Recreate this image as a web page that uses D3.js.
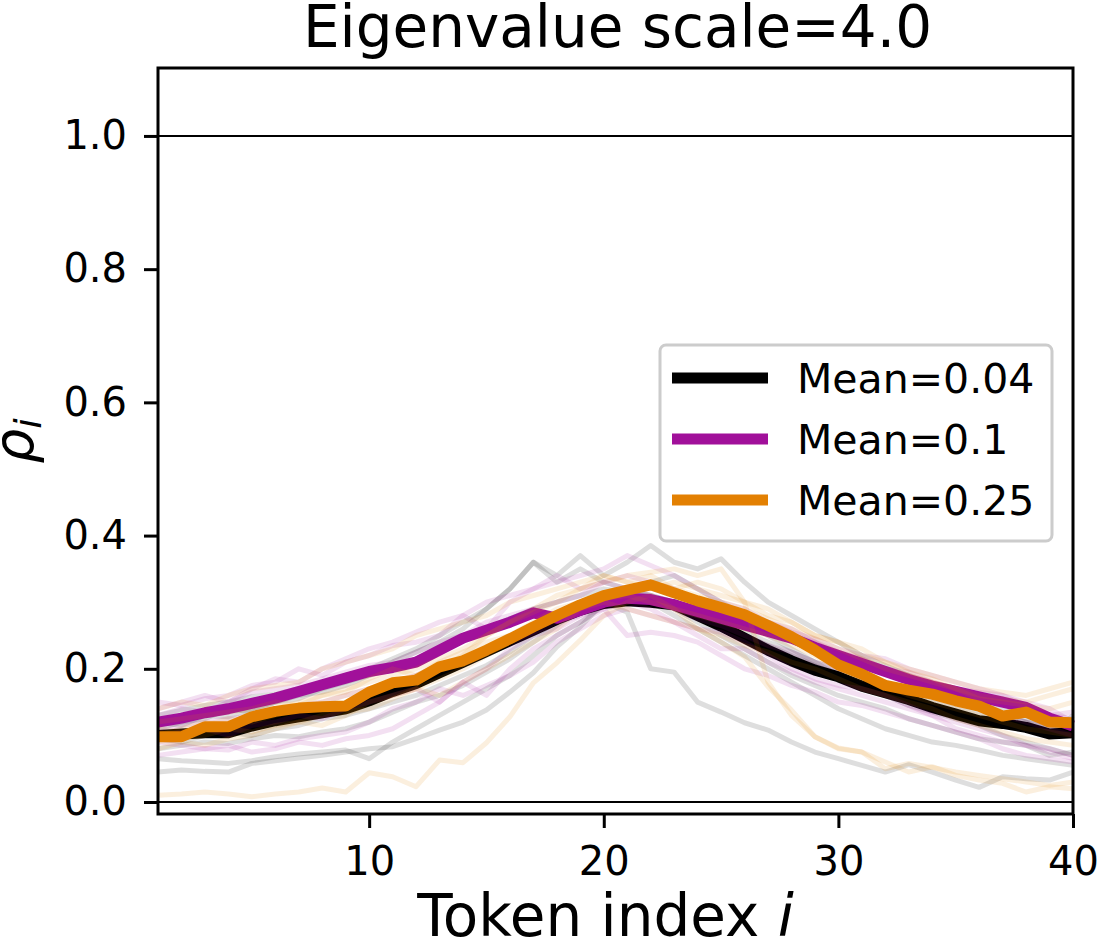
<!DOCTYPE html>
<html>
<head>
<meta charset="utf-8">
<script src="https://cdn.jsdelivr.net/npm/d3@7"></script>
<style>
	body { margin: 0; background: #fff; }
	svg { display: block; font-family: "DejaVu Sans", sans-serif; }
</style>
</head>
<body>
<svg id="chart" width="1098" height="945"></svg>
<script>
'use strict';

// token index 1..40
var tokens = d3.range(1, 41);

var xTicks = [10, 20, 30, 40];
var yTicks = [0, 0.2, 0.4, 0.6, 0.8, 1.0];
var refLines = [0, 1];

var seriesNames = ['Mean=0.04', 'Mean=0.1', 'Mean=0.25'];
var seriesColors = ['#000000', '#a1109a', '#e38002'];

// mean curves, one per series
var meanBlack = [0.100, 0.102, 0.104, 0.104, 0.114, 0.122, 0.128, 0.134, 0.140, 0.152,
	0.166, 0.178, 0.194, 0.210, 0.226, 0.242, 0.258, 0.274, 0.288, 0.298,
	0.302, 0.300, 0.296, 0.280, 0.264, 0.246, 0.228, 0.212, 0.198, 0.188,
	0.174, 0.164, 0.154, 0.142, 0.132, 0.122, 0.118, 0.112, 0.102, 0.104];
var meanPurple = [0.120, 0.126, 0.134, 0.140, 0.148, 0.156, 0.166, 0.176, 0.186, 0.196,
	0.202, 0.210, 0.228, 0.246, 0.258, 0.270, 0.284, 0.276, 0.288, 0.300,
	0.306, 0.304, 0.296, 0.286, 0.276, 0.266, 0.256, 0.246, 0.232, 0.220,
	0.208, 0.196, 0.184, 0.174, 0.166, 0.158, 0.150, 0.142, 0.126, 0.114];
var meanOrange = [0.098, 0.098, 0.113, 0.113, 0.128, 0.136, 0.141, 0.143, 0.144, 0.165,
	0.179, 0.183, 0.203, 0.212, 0.228, 0.245, 0.263, 0.280, 0.296, 0.310,
	0.318, 0.326, 0.314, 0.302, 0.292, 0.281, 0.265, 0.248, 0.228, 0.206,
	0.192, 0.175, 0.168, 0.162, 0.152, 0.144, 0.129, 0.135, 0.120, 0.119];

// individual runs (faint)
var runsBlack = [
	[0.045, 0.048, 0.046, 0.045, 0.058, 0.062, 0.066, 0.070, 0.075, 0.080,
	 0.083, 0.095, 0.108, 0.120, 0.138, 0.165, 0.194, 0.233, 0.263, 0.300,
	 0.285, 0.200, 0.195, 0.150, 0.135, 0.119, 0.108, 0.090, 0.075, 0.065,
	 0.055, 0.045, 0.056, 0.045, 0.033, 0.022, 0.038, 0.035, 0.033, 0.045],
	[0.130, 0.138, 0.145, 0.150, 0.158, 0.162, 0.170, 0.178, 0.190, 0.200,
	 0.215, 0.230, 0.250, 0.270, 0.290, 0.320, 0.360, 0.340, 0.370, 0.340,
	 0.360, 0.385, 0.360, 0.350, 0.365, 0.330, 0.300, 0.280, 0.260, 0.240,
	 0.220, 0.205, 0.190, 0.175, 0.160, 0.150, 0.140, 0.125, 0.110, 0.105],
	[0.065, 0.062, 0.060, 0.058, 0.062, 0.068, 0.072, 0.075, 0.078, 0.065,
	 0.090, 0.110, 0.130, 0.150, 0.170, 0.190, 0.220, 0.250, 0.270, 0.295,
	 0.310, 0.300, 0.280, 0.260, 0.240, 0.220, 0.200, 0.180, 0.160, 0.140,
	 0.125, 0.110, 0.100, 0.090, 0.085, 0.078, 0.070, 0.065, 0.060, 0.055],
	[0.110, 0.120, 0.125, 0.140, 0.135, 0.150, 0.160, 0.165, 0.175, 0.190,
	 0.200, 0.215, 0.225, 0.245, 0.260, 0.275, 0.290, 0.300, 0.310, 0.320,
	 0.315, 0.310, 0.300, 0.290, 0.270, 0.255, 0.240, 0.225, 0.210, 0.200,
	 0.190, 0.175, 0.168, 0.158, 0.150, 0.140, 0.130, 0.120, 0.100, 0.130],
	[0.080, 0.085, 0.090, 0.088, 0.095, 0.100, 0.098, 0.105, 0.110, 0.120,
	 0.135, 0.150, 0.160, 0.175, 0.195, 0.215, 0.240, 0.265, 0.290, 0.305,
	 0.320, 0.330, 0.340, 0.320, 0.300, 0.280, 0.250, 0.230, 0.210, 0.190,
	 0.175, 0.160, 0.145, 0.135, 0.125, 0.115, 0.100, 0.090, 0.080, 0.070],
	[0.120, 0.115, 0.130, 0.128, 0.140, 0.150, 0.155, 0.170, 0.180, 0.190,
	 0.210, 0.225, 0.240, 0.260, 0.290, 0.320, 0.360, 0.330, 0.350, 0.330,
	 0.320, 0.310, 0.300, 0.285, 0.270, 0.250, 0.235, 0.220, 0.205, 0.190,
	 0.180, 0.170, 0.160, 0.150, 0.140, 0.135, 0.125, 0.120, 0.115, 0.110],
	[0.095, 0.090, 0.100, 0.105, 0.100, 0.110, 0.115, 0.125, 0.130, 0.140,
	 0.150, 0.160, 0.175, 0.190, 0.205, 0.225, 0.250, 0.270, 0.290, 0.300,
	 0.310, 0.300, 0.290, 0.270, 0.250, 0.230, 0.210, 0.190, 0.175, 0.160,
	 0.150, 0.140, 0.125, 0.115, 0.105, 0.095, 0.090, 0.085, 0.070, 0.075]
];
var runsPurple = [
	[0.150, 0.145, 0.155, 0.160, 0.175, 0.180, 0.200, 0.190, 0.210, 0.220,
	 0.235, 0.240, 0.250, 0.280, 0.260, 0.300, 0.320, 0.330, 0.340, 0.350,
	 0.370, 0.355, 0.340, 0.320, 0.300, 0.290, 0.270, 0.260, 0.240, 0.225,
	 0.215, 0.200, 0.190, 0.180, 0.170, 0.160, 0.155, 0.140, 0.130, 0.135],
	[0.090, 0.085, 0.080, 0.085, 0.075, 0.080, 0.090, 0.085, 0.095, 0.100,
	 0.110, 0.130, 0.150, 0.180, 0.160, 0.200, 0.230, 0.250, 0.270, 0.290,
	 0.300, 0.290, 0.270, 0.250, 0.230, 0.230, 0.210, 0.195, 0.180, 0.170,
	 0.160, 0.150, 0.140, 0.130, 0.110, 0.100, 0.090, 0.085, 0.080, 0.070],
	[0.130, 0.140, 0.135, 0.150, 0.165, 0.170, 0.175, 0.185, 0.195, 0.205,
	 0.210, 0.225, 0.240, 0.250, 0.270, 0.280, 0.290, 0.300, 0.310, 0.330,
	 0.320, 0.310, 0.290, 0.280, 0.290, 0.270, 0.255, 0.250, 0.240, 0.220,
	 0.210, 0.200, 0.195, 0.180, 0.170, 0.165, 0.160, 0.150, 0.140, 0.120],
	[0.110, 0.115, 0.120, 0.125, 0.130, 0.135, 0.145, 0.150, 0.160, 0.170,
	 0.180, 0.190, 0.205, 0.215, 0.230, 0.240, 0.255, 0.270, 0.280, 0.300,
	 0.305, 0.300, 0.290, 0.275, 0.265, 0.250, 0.235, 0.225, 0.210, 0.200,
	 0.190, 0.180, 0.170, 0.160, 0.150, 0.140, 0.130, 0.120, 0.110, 0.100],
	[0.100, 0.105, 0.110, 0.100, 0.115, 0.120, 0.130, 0.125, 0.140, 0.150,
	 0.160, 0.170, 0.150, 0.180, 0.200, 0.230, 0.250, 0.260, 0.280, 0.290,
	 0.250, 0.255, 0.250, 0.240, 0.220, 0.200, 0.190, 0.175, 0.165, 0.150,
	 0.145, 0.135, 0.125, 0.115, 0.105, 0.095, 0.080, 0.070, 0.065, 0.060],
	[0.140, 0.150, 0.160, 0.150, 0.170, 0.185, 0.180, 0.200, 0.215, 0.230,
	 0.240, 0.255, 0.270, 0.280, 0.300, 0.310, 0.320, 0.340, 0.320, 0.330,
	 0.340, 0.330, 0.320, 0.300, 0.285, 0.280, 0.270, 0.255, 0.245, 0.230,
	 0.220, 0.215, 0.200, 0.190, 0.180, 0.170, 0.160, 0.145, 0.130, 0.125],
	[0.070, 0.075, 0.080, 0.078, 0.090, 0.085, 0.095, 0.100, 0.105, 0.120,
	 0.140, 0.150, 0.170, 0.160, 0.175, 0.190, 0.210, 0.240, 0.260, 0.280,
	 0.290, 0.280, 0.270, 0.260, 0.255, 0.240, 0.220, 0.200, 0.185, 0.175,
	 0.170, 0.160, 0.145, 0.130, 0.120, 0.110, 0.100, 0.085, 0.075, 0.065]
];
var runsOrange = [
	[0.010, 0.012, 0.015, 0.012, 0.008, 0.012, 0.015, 0.021, 0.015, 0.044,
	 0.038, 0.023, 0.063, 0.059, 0.089, 0.128, 0.179, 0.209, 0.243, 0.280,
	 0.300, 0.310, 0.290, 0.260, 0.240, 0.218, 0.173, 0.138, 0.098, 0.081,
	 0.075, 0.060, 0.045, 0.053, 0.040, 0.033, 0.028, 0.015, 0.023, 0.020],
	[0.100, 0.110, 0.120, 0.115, 0.130, 0.140, 0.150, 0.160, 0.170, 0.180,
	 0.190, 0.200, 0.215, 0.230, 0.250, 0.270, 0.290, 0.310, 0.320, 0.330,
	 0.340, 0.345, 0.350, 0.340, 0.350, 0.300, 0.180, 0.130, 0.098, 0.080,
	 0.075, 0.050, 0.058, 0.052, 0.045, 0.040, 0.035, 0.030, 0.025, 0.030],
	[0.140, 0.150, 0.145, 0.160, 0.170, 0.175, 0.180, 0.200, 0.210, 0.220,
	 0.230, 0.250, 0.260, 0.270, 0.280, 0.300, 0.310, 0.320, 0.330, 0.340,
	 0.330, 0.320, 0.330, 0.320, 0.310, 0.300, 0.280, 0.270, 0.250, 0.240,
	 0.230, 0.210, 0.200, 0.190, 0.180, 0.170, 0.165, 0.160, 0.170, 0.180],
	[0.090, 0.095, 0.100, 0.110, 0.105, 0.115, 0.120, 0.130, 0.135, 0.140,
	 0.155, 0.170, 0.185, 0.200, 0.220, 0.240, 0.260, 0.280, 0.300, 0.305,
	 0.310, 0.300, 0.290, 0.280, 0.270, 0.260, 0.250, 0.235, 0.220, 0.200,
	 0.185, 0.175, 0.160, 0.150, 0.140, 0.130, 0.120, 0.110, 0.105, 0.100],
	[0.120, 0.125, 0.130, 0.135, 0.140, 0.150, 0.145, 0.160, 0.165, 0.185,
	 0.200, 0.190, 0.210, 0.225, 0.240, 0.250, 0.270, 0.290, 0.300, 0.310,
	 0.320, 0.330, 0.320, 0.310, 0.300, 0.290, 0.275, 0.260, 0.245, 0.230,
	 0.215, 0.200, 0.190, 0.180, 0.170, 0.155, 0.150, 0.145, 0.140, 0.150],
	[0.110, 0.105, 0.115, 0.125, 0.120, 0.130, 0.140, 0.150, 0.160, 0.170,
	 0.175, 0.190, 0.200, 0.220, 0.250, 0.270, 0.285, 0.300, 0.320, 0.340,
	 0.330, 0.340, 0.320, 0.330, 0.320, 0.300, 0.290, 0.270, 0.250, 0.240,
	 0.220, 0.210, 0.195, 0.185, 0.170, 0.160, 0.155, 0.150, 0.160, 0.170],
	[0.080, 0.090, 0.085, 0.095, 0.100, 0.110, 0.120, 0.115, 0.130, 0.150,
	 0.160, 0.170, 0.160, 0.180, 0.200, 0.220, 0.240, 0.260, 0.290, 0.300,
	 0.290, 0.280, 0.270, 0.260, 0.250, 0.235, 0.225, 0.210, 0.200, 0.185,
	 0.170, 0.160, 0.150, 0.140, 0.125, 0.115, 0.105, 0.095, 0.090, 0.085]
];

var means = [meanBlack, meanPurple, meanOrange];
var runs = [runsBlack, runsPurple, runsOrange];

var margin = { top: 68, right: 25, bottom: 131, left: 158 };
var width = 1098 - margin.left - margin.right;
var height = 945 - margin.top - margin.bottom;

var svg = d3.select('#chart');
var g = svg.append('g')
	.attr('transform', 'translate(' + margin.left + ',' + margin.top + ')');

var x = d3.scaleLinear().domain([1, 40]).range([0, width]);
var y = d3.scaleLinear().domain([-0.018, 1.102]).range([height, 0]);

var line = d3.line()
	.x(function(d, i) { return x(tokens[i]); })
	.y(function(d) { return y(d); });

// reference lines at 0 and 1
g.selectAll('.ref')
	.data(refLines)
	.enter().append('line')
	.attr('class', 'ref')
	.attr('x1', 0)
	.attr('x2', width)
	.attr('y1', function(d) { return y(d); })
	.attr('y2', function(d) { return y(d); })
	.attr('stroke', '#000')
	.attr('stroke-width', 2);

var plot = g.append('g');

// each series: faint runs first, then its mean on top
means.forEach(function(mean, k) {
	plot.append('g')
		.selectAll('path')
		.data(runs[k])
		.enter().append('path')
		.attr('d', line)
		.attr('fill', 'none')
		.attr('stroke', seriesColors[k])
		.attr('stroke-opacity', 0.13)
		.attr('stroke-width', 5)
		.attr('stroke-linejoin', 'round');

	plot.append('path')
		.datum(mean)
		.attr('d', line)
		.attr('fill', 'none')
		.attr('stroke', seriesColors[k])
		.attr('stroke-width', 11)
		.attr('stroke-linejoin', 'round');
});

// axes
var xAxis = g.append('g')
	.attr('transform', 'translate(0,' + height + ')')
	.call(d3.axisBottom(x).tickValues(xTicks).tickSize(14).tickPadding(19));
var yAxis = g.append('g')
	.call(d3.axisLeft(y).tickValues(yTicks).tickSize(14).tickPadding(17)
		.tickFormat(d3.format('.1f')));

[xAxis, yAxis].forEach(function(ax) {
	ax.select('.domain').remove();
	ax.selectAll('.tick line').attr('stroke', '#000').attr('stroke-width', 3);
	ax.selectAll('.tick text')
		.attr('fill', '#000')
		.style('font-size', '40px')
		.style('font-family', '"DejaVu Sans", sans-serif');
});

// frame
g.append('rect')
	.attr('width', width)
	.attr('height', height)
	.attr('fill', 'none')
	.attr('stroke', '#000')
	.attr('stroke-width', 3);

// title and labels
svg.append('text')
	.attr('x', margin.left + width / 2 + 2)
	.attr('y', 47)
	.attr('text-anchor', 'middle')
	.style('font-size', '58px')
	.text('Eigenvalue scale=4.0');

var xl = svg.append('text')
	.attr('x', margin.left + width / 2 - 10)
	.attr('y', 936)
	.attr('text-anchor', 'middle')
	.style('font-size', '58px');
xl.append('tspan').text('Token index ');
xl.append('tspan').style('font-style', 'italic').text('i');

var yl = svg.append('text')
	.attr('transform', 'translate(33,' + (margin.top + height / 2) + ') rotate(-90)')
	.attr('text-anchor', 'middle')
	.style('font-size', '55px');
yl.append('tspan').style('font-style', 'italic').text('ρ');
yl.append('tspan')
	.style('font-style', 'italic')
	.style('font-size', '38px')
	.attr('dy', 8)
	.text('i');

// legend
var legend = svg.append('g').attr('transform', 'translate(660,345)');
legend.append('rect')
	.attr('width', 392)
	.attr('height', 196)
	.attr('rx', 6)
	.attr('fill', '#fff')
	.attr('fill-opacity', 0.8)
	.attr('stroke', '#cccccc')
	.attr('stroke-width', 3);

var rows = legend.selectAll('.row')
	.data(seriesNames)
	.enter().append('g')
	.attr('class', 'row')
	.attr('transform', function(d, i) { return 'translate(0,' + (33 + i * 61) + ')'; });
rows.append('line')
	.attr('x1', 12)
	.attr('x2', 108)
	.attr('stroke', function(d, i) { return seriesColors[i]; })
	.attr('stroke-width', 11);
rows.append('text')
	.attr('x', 137)
	.attr('dy', '0.36em')
	.style('font-size', '41px')
	.text(function(d) { return d; });
</script>
</body>
</html>
